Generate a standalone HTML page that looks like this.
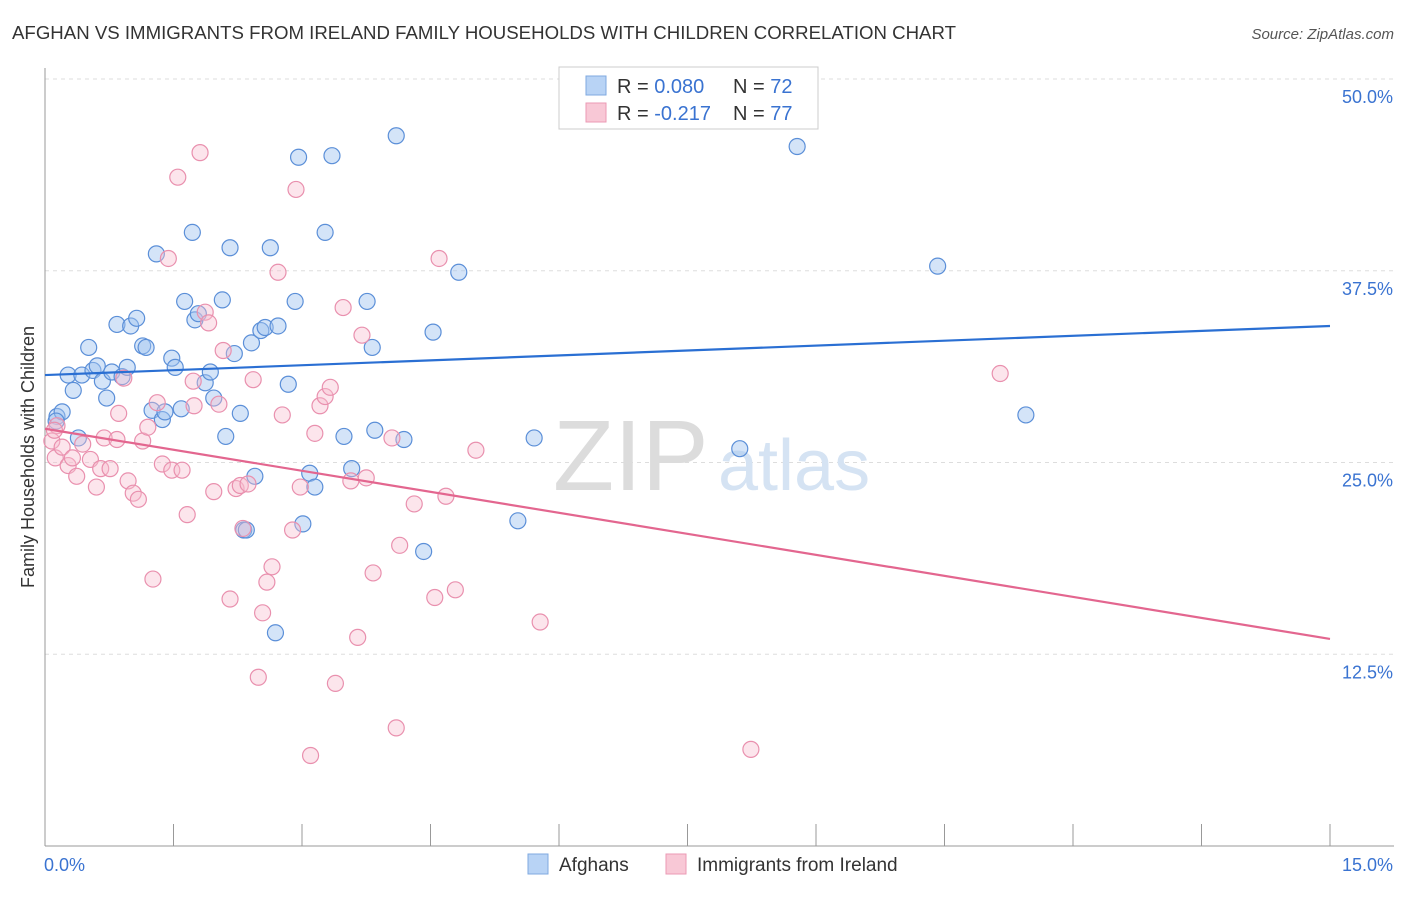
<!DOCTYPE html>
<html><head><meta charset="utf-8">
<style>
body{margin:0;background:#fff;font-family:"Liberation Sans",sans-serif;}
svg text{font-family:"Liberation Sans",sans-serif;}
</style></head>
<body>
<svg width="1406" height="892" xmlns="http://www.w3.org/2000/svg">
<text x="12" y="39" font-size="18" fill="#333" textLength="944" lengthAdjust="spacingAndGlyphs">AFGHAN VS IMMIGRANTS FROM IRELAND FAMILY HOUSEHOLDS WITH CHILDREN CORRELATION CHART</text>
<text x="1394" y="39" font-size="15" fill="#555" text-anchor="end" font-style="italic">Source: ZipAtlas.com</text>
<g id="grid"></g>
<text x="553" y="490" font-size="100" fill="#dcdcdc" font-family="Liberation Serif">ZIP</text>
<text x="718" y="490" font-size="72" fill="#d5e3f3">atlas</text>
<g id="axes"></g>
<g id="pts"></g>
<g id="lines"></g>
<g>
<rect x="559" y="67" width="259" height="62" fill="#fff" stroke="#ccc"/>
<rect x="586" y="76" width="20" height="19" fill="#b8d3f5" stroke="#7fa9e0"/>
<rect x="586" y="103" width="20" height="19" fill="#f8c8d6" stroke="#eb9ab4"/>
<text x="617" y="93" font-size="20" fill="#333">R = <tspan fill="#3a73d1">0.080</tspan></text>
<text x="733" y="93" font-size="20" fill="#333">N = <tspan fill="#3a73d1">72</tspan></text>
<text x="617" y="120" font-size="20" fill="#333">R = <tspan fill="#3a73d1">-0.217</tspan></text>
<text x="733" y="120" font-size="20" fill="#333">N = <tspan fill="#3a73d1">77</tspan></text>
</g>
<g>
<rect x="528" y="854" width="20" height="20" fill="#b8d3f5" stroke="#7fa9e0"/>
<text x="559" y="871" font-size="19" fill="#333">Afghans</text>
<rect x="666" y="854" width="20" height="20" fill="#f8c8d6" stroke="#eb9ab4"/>
<text x="697" y="871" font-size="19" fill="#333">Immigrants from Ireland</text>
</g>
<text x="34" y="457" font-size="18" fill="#333" transform="rotate(-90 34 457)" text-anchor="middle">Family Households with Children</text>
</svg>
<script>
const yTicks=[12.5,25,37.5,50];
const yTickLabels=["12.5%","25.0%","37.5%","50.0%"];
const xTickLabels=["0.0%","15.0%"];
const blueX=[0.14,0.2,0.13,0.27,0.33,0.39,0.43,0.51,0.56,0.61,0.67,0.72,0.78,0.84,0.9,0.96,1.0,1.07,1.14,1.18,1.25,1.3,1.37,1.4,1.48,1.52,1.59,1.63,1.72,1.75,1.79,1.87,1.93,1.97,2.07,2.11,2.16,2.21,2.28,2.41,2.45,2.52,2.57,2.63,2.72,2.69,2.84,2.92,2.96,3.01,3.09,3.15,3.27,3.35,3.49,3.58,3.76,3.82,3.85,4.1,4.19,4.42,4.53,4.83,5.52,5.71,8.11,8.78,10.42,11.45,2.32,2.35];
const blueY=[28.0,28.3,27.7,30.7,29.7,26.6,30.7,32.5,31.0,31.3,30.3,29.2,30.9,34.0,30.6,31.2,33.9,34.4,32.6,32.5,28.4,38.6,27.8,28.3,31.8,31.2,28.5,35.5,40.0,34.3,34.7,30.2,30.9,29.2,35.6,26.7,39.0,32.1,28.2,32.8,24.1,33.6,33.8,39.0,33.9,13.9,30.1,35.5,44.9,21.0,24.3,23.4,40.0,45.0,26.7,24.6,35.5,32.5,27.1,46.3,26.5,19.2,33.5,37.4,21.2,26.6,25.9,45.6,37.8,28.1,20.6,20.6];
const pinkX=[0.08,0.12,0.14,0.2,0.27,0.32,0.37,0.44,0.53,0.6,0.65,0.69,0.76,0.84,0.86,0.92,0.97,1.03,1.09,1.14,1.2,1.26,1.31,1.37,1.44,1.48,1.55,1.6,1.66,1.73,1.74,1.81,1.87,1.91,1.97,2.03,2.08,2.16,2.23,2.28,2.31,2.37,2.43,2.49,2.54,2.59,2.65,2.72,2.77,2.89,2.93,2.98,3.1,3.15,3.21,3.27,3.33,3.39,3.48,3.57,3.65,3.7,3.75,3.83,4.05,4.14,4.1,4.31,4.55,4.6,4.68,4.79,5.03,5.78,8.24,11.15,0.11];
const pinkY=[26.4,25.3,27.4,26.0,24.8,25.3,24.1,26.2,25.2,23.4,24.6,26.6,24.6,26.5,28.2,30.5,23.8,23.0,22.6,26.4,27.3,17.4,28.9,24.9,38.3,24.5,43.6,24.5,21.6,30.3,28.7,45.2,34.8,34.1,23.1,28.8,32.3,16.1,23.3,23.5,20.7,23.6,30.4,11.0,15.2,17.2,18.2,37.4,28.1,20.6,42.8,23.4,5.9,26.9,28.7,29.3,29.9,10.6,35.1,23.8,13.6,33.3,24.0,17.8,26.6,19.6,7.7,22.3,16.2,38.3,22.8,16.7,25.8,14.6,6.3,30.8,27.1];
const blueTrend=[30.7,33.9];
const pinkTrend=[27.2,13.5];
const NS="http://www.w3.org/2000/svg";
const x0=45,x1=1330,yTop=79,yBot=846;
function sx(v){return x0+(v/15)*(x1-x0);}
function sy(v){return yBot-(v/50)*(yBot-yTop);}
function mk(t,a,p){const e=document.createElementNS(NS,t);for(const k in a)e.setAttribute(k,a[k]);p.appendChild(e);return e;}
const grid=document.getElementById('grid'),axes=document.getElementById('axes');
yTicks.forEach((t,i)=>{
 const l=mk('line',{x1:x0,x2:1394,y1:sy(t),y2:sy(t),stroke:'#ddd','stroke-dasharray':'4,4'},grid);
 
 
 const tx=mk('text',{x:1393,y:sy(t)+24,'font-size':18,fill:'#3a73d1','text-anchor':'end'},axes);
 tx.textContent=yTickLabels[i];
 
 
});
const xa=mk('line',{x1:x0,x2:1394,y1:yBot,y2:yBot,stroke:'#999'},axes);


const ya=mk('line',{x1:x0,x2:x0,y1:68,y2:yBot,stroke:'#999'},axes);


for(let i=0;i<=10;i++){const v=i*1.5;const t=mk('line',{x1:sx(v),x2:sx(v),y1:yBot,y2:yBot-22,stroke:'#999'},axes);
 
 }
[[0,'start',44],[15,'end',1393]].forEach((d,i)=>{const t=mk('text',{x:d[2],y:871,'font-size':18,fill:'#3a73d1','text-anchor':d[1]},axes);t.textContent=xTickLabels[i];
 
 });
const pts=document.getElementById('pts');
blueX.forEach((v,i)=>{const c=mk('circle',{cx:sx(v),cy:sy(blueY[i]),r:8,fill:'rgba(160,196,240,0.45)',stroke:'#5b8fd8','stroke-width':1.2},pts);
 
 });
pinkX.forEach((v,i)=>{const c=mk('circle',{cx:sx(v),cy:sy(pinkY[i]),r:8,fill:'rgba(248,190,208,0.4)',stroke:'#e990ae','stroke-width':1.2},pts);
 
 });
const lines=document.getElementById('lines');
const bl=mk('line',{x1:sx(0),x2:sx(15),y1:sy(blueTrend[0]),y2:sy(blueTrend[1]),stroke:'#2a6fd3','stroke-width':2.2},lines);


const pl=mk('line',{x1:sx(0),x2:sx(15),y1:sy(pinkTrend[0]),y2:sy(pinkTrend[1]),stroke:'#e3668f','stroke-width':2.2},lines);


</script>
</body></html>
